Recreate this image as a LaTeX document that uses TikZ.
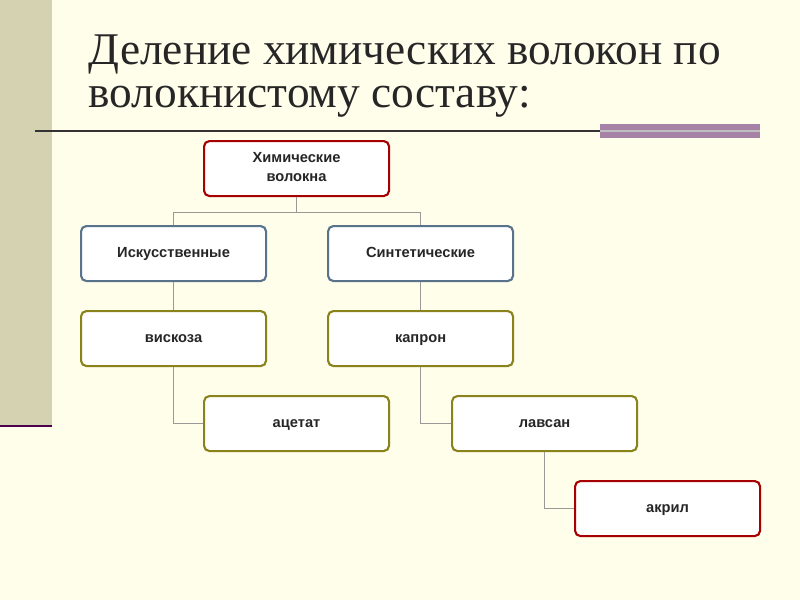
\documentclass[tikz,border=0pt]{standalone}
\usepackage{fontspec}
\setmainfont{Liberation Serif}
\newfontfamily\boxfont{Liberation Sans}
\begin{document}
\begin{tikzpicture}[x=0.75pt,y=-0.75pt,
  bx/.style={draw, line width=1.6pt, rounded corners=4pt, fill=white, minimum width=138.75pt, minimum height=41.25pt, anchor=north west},
  lb/.style={font=\boxfont\bfseries\fontsize{11}{14}\selectfont, text=black!85, align=center, inner sep=0pt},
  red/.style={draw=red!65!black},
  blu/.style={draw={rgb,255:red,90;green,115;blue,140}},
  oli/.style={draw=olive!80!yellow!80!black},
  con/.style={draw=gray!80, line width=0.6pt}]
\fill[yellow!8] (0,0) rectangle (800,600);
\useasboundingbox (0,0) rectangle (800,600);
\fill[yellow!30!gray!55] (0,0) rectangle (52,425);
\draw[violet!60!black, line width=1.5pt] (0,426) -- (52,426);
\draw[gray!40!black, line width=1.2pt] (35,131) -- (760,131);
\fill[gray!60!violet!70] (600,124) rectangle (760,138);
\draw[gray!50, line width=1.2pt] (600,131) -- (760,131);
\node[anchor=west, font=\fontsize{34}{38}\selectfont, text=black!85] at (84,54) {Деление химических волокон по};
\node[anchor=west, font=\fontsize{34}{38}\selectfont, text=black!85] at (84,102) {волокнистому составу:};
\node[bx,red] (him) at (203,140) {};
\node[bx,blu] (isk) at (80,225) {};
\node[bx,blu] (sin) at (327,225) {};
\node[bx,oli] (vis) at (80,310) {};
\node[bx,oli] (kap) at (327,310) {};
\node[bx,oli] (ace) at (203,395) {};
\node[bx,oli] (lav) at (451,395) {};
\node[bx,red] (akr) at (574,480) {};
\node[lb] (thim) at (him.center) {\strut Химические\\\strut волокна};
\node[lb] (tisk) at (isk.center) {\strut Искусственные};
\node[lb] (tsin) at (sin.center) {\strut Синтетические};
\node[lb] (tvis) at (vis.center) {\strut вискоза};
\node[lb] (tkap) at (kap.center) {\strut капрон};
\node[lb] (tace) at (ace.center) {\strut ацетат};
\node[lb] (tlav) at (lav.center) {\strut лавсан};
\node[lb] (takr) at (akr.center) {\strut акрил};
\coordinate (h1) at ([yshift=-11.25pt]him.south);
\draw[con] (him.south) -- (h1);
\draw[con] (isk.north) |- (h1) -| (sin.north);
\draw[con] (isk) -- (vis);
\draw[con] (sin) -- (kap);
\draw[con] (vis.south) |- (ace.west);
\draw[con] (kap.south) |- (lav.west);
\draw[con] (lav.south) |- (akr.west);
\end{tikzpicture}
\end{document}
